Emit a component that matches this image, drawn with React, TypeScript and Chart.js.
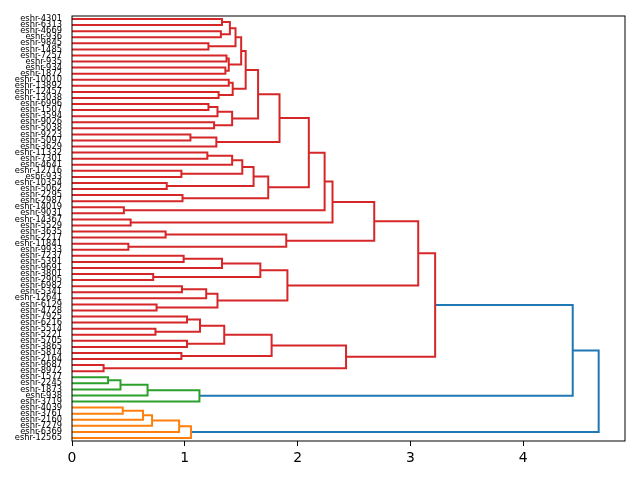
import { useEffect, useRef } from "react";
import { Chart, registerables } from "chart.js";

Chart.register(...registerables);

// Leaf labels, listed from the top of the plot to the bottom.
const leafLabels = [
  "eshr-4301", "eshr-6313", "eshr-4669", "eshr-936", "eshr-9845", "eshr-1485", "eshr-7257",
  "eshr-935", "eshr-934", "eshr-1872", "eshr-10010", "eshr-13892", "eshr-12457", "eshr-13038",
  "eshr-6996", "eshr-1507", "eshr-3594", "eshr-9026", "eshr-5038", "eshr-9223", "eshr-5097",
  "eshr-3629", "eshr-11332", "eshr-7301", "eshr-4641", "eshr-12716", "eshr-933", "eshr-10354",
  "eshr-5062", "eshr-2295", "eshr-2987", "eshr-14019", "eshr-9031", "eshr-14367", "eshr-5529",
  "eshr-3635", "eshr-2217", "eshr-11841", "eshr-9933", "eshr-7237", "eshr-5391", "eshr-9691",
  "eshr-3801", "eshr-2905", "eshr-6982", "eshr-5341", "eshr-12641", "eshr-6129", "eshr-4728",
  "eshr-7925", "eshr-6216", "eshr-5514", "eshr-5221", "eshr-5705", "eshr-3865", "eshr-5814",
  "eshr-2164", "eshr-9687", "eshr-8972", "eshr-1577", "eshr-2245", "eshr-1873", "eshr-938",
  "eshr-3719", "eshr-4039", "eshr-3761", "eshr-2160", "eshr-7279", "eshr-6369", "eshr-12565",
];

// Linkage rows: [child A, child B, merge distance].
// Ids below leafLabels.length are leaves; id n + k refers to row k.
const merges: [number, number, number][] = [
  [0, 1, 1.33],     // 70
  [2, 3, 1.32],     // 71
  [70, 71, 1.40],   // 72
  [4, 5, 1.21],     // 73
  [72, 73, 1.45],   // 74
  [6, 7, 1.37],     // 75
  [8, 9, 1.36],     // 76
  [75, 76, 1.39],   // 77
  [74, 77, 1.50],   // 78
  [10, 11, 1.39],   // 79
  [12, 13, 1.30],   // 80
  [79, 80, 1.425],  // 81
  [78, 81, 1.54],   // 82
  [14, 15, 1.21],   // 83
  [83, 16, 1.29],   // 84
  [17, 18, 1.26],   // 85
  [84, 85, 1.42],   // 86
  [82, 86, 1.65],   // 87
  [19, 20, 1.05],   // 88
  [88, 21, 1.28],   // 89
  [87, 89, 1.84],   // 90
  [22, 23, 1.20],   // 91
  [91, 24, 1.42],   // 92
  [25, 26, 0.97],   // 93
  [92, 93, 1.51],   // 94
  [27, 28, 0.84],   // 95
  [94, 95, 1.61],   // 96
  [29, 30, 0.98],   // 97
  [96, 97, 1.74],   // 98
  [90, 98, 2.10],   // 99
  [31, 32, 0.46],   // 100
  [99, 100, 2.24],  // 101
  [33, 34, 0.52],   // 102
  [101, 102, 2.31], // 103
  [35, 36, 0.83],   // 104
  [37, 38, 0.50],   // 105
  [104, 105, 1.90], // 106
  [103, 106, 2.68], // 107
  [39, 40, 0.99],   // 108
  [108, 41, 1.33],  // 109
  [42, 43, 0.72],   // 110
  [109, 110, 1.67], // 111
  [44, 45, 0.975],  // 112
  [112, 46, 1.19],  // 113
  [47, 48, 0.75],   // 114
  [113, 114, 1.29], // 115
  [111, 115, 1.91], // 116
  [107, 116, 3.07], // 117
  [49, 50, 1.02],   // 118
  [51, 52, 0.74],   // 119
  [118, 119, 1.135],// 120
  [53, 54, 1.02],   // 121
  [120, 121, 1.35], // 122
  [55, 56, 0.97],   // 123
  [122, 123, 1.77], // 124
  [57, 58, 0.28],   // 125
  [124, 125, 2.43], // 126
  [117, 126, 3.22], // 127
  [59, 60, 0.32],   // 128
  [128, 61, 0.43],  // 129
  [129, 62, 0.67],  // 130
  [130, 63, 1.13],  // 131
  [127, 131, 4.44], // 132
  [64, 65, 0.45],   // 133
  [133, 66, 0.63],  // 134
  [134, 67, 0.71],  // 135
  [135, 68, 0.95],  // 136
  [136, 69, 1.055], // 137
  [132, 137, 4.67], // 138
];

const xTicks = [0, 1, 2, 3, 4];
const clusterColors = ["#ff7f0e", "#2ca02c", "#d62728"];
const aboveColor = "#1f77b4";

type Pt = { x: number; y: number };

function buildDendrogram() {
  const n = leafLabels.length;
  const pos: Pt[] = leafLabels.map((_, i) => ({ x: 0, y: 10 * (n - 1 - i) + 5 }));
  merges.forEach(([a, b, h]) => pos.push({ x: h, y: (pos[a].y + pos[b].y) / 2 }));

  const maxH = Math.max(...merges.map((m) => m[2]));
  const threshold = 0.7 * maxH;
  const colors: string[] = new Array(merges.length);
  let next = 0;
  const paint = (id: number, color: string | null) => {
    if (id < n) return;
    const k = id - n;
    const [a, b, h] = merges[k];
    let c = color;
    if (c === null && h < threshold) c = clusterColors[next++ % clusterColors.length];
    colors[k] = c ?? aboveColor;
    const [first, second] = pos[a].y <= pos[b].y ? [a, b] : [b, a];
    paint(first, c);
    paint(second, c);
  };
  paint(n + merges.length - 1, null);

  const links = merges.map(([a, b, h], k) => ({
    data: [
      { x: pos[a].x, y: pos[a].y },
      { x: h, y: pos[a].y },
      { x: h, y: pos[b].y },
      { x: pos[b].x, y: pos[b].y },
    ],
    color: colors[k],
  }));
  const leafPos = leafLabels.map((_, i) => pos[i].y);
  return { links, leafPos, maxH, n };
}

const framePlugin = {
  id: "frame",
  afterDraw(chart: Chart) {
    const { ctx, chartArea: a } = chart;
    ctx.save();
    ctx.strokeStyle = "#000";
    ctx.lineWidth = 1;
    ctx.strokeRect(a.left, a.top, a.right - a.left, a.bottom - a.top);
    ctx.restore();
  },
};

export default function App() {
  const canvasRef = useRef<HTMLCanvasElement>(null);

  useEffect(() => {
    if (!canvasRef.current) return;
    const { links, leafPos, maxH, n } = buildDendrogram();
    const labelAt = new Map<number, string>();
    leafPos.forEach((p, i) => labelAt.set(p, leafLabels[i]));

    const chart = new Chart(canvasRef.current, {
      type: "scatter",
      data: {
        datasets: links.map((l) => ({
          data: l.data,
          showLine: true,
          borderColor: l.color,
          backgroundColor: l.color,
          borderWidth: 2,
          pointRadius: 0,
          pointHoverRadius: 0,
          tension: 0,
          fill: false,
        })),
      },
      options: {
        responsive: false,
        animation: false,
        layout: { padding: { top: 16, right: 15, bottom: 0, left: 0 } },
        plugins: { legend: { display: false }, tooltip: { enabled: false } },
        scales: {
          x: {
            type: "linear",
            min: 0,
            max: maxH * 1.05,
            afterBuildTicks: (s: any) => {
              s.ticks = xTicks.map((v) => ({ value: v }));
            },
            afterFit: (s: any) => {
              s.height = 39;
            },
            grid: { drawOnChartArea: false, drawTicks: true, tickLength: 5, color: "#000", lineWidth: 1 },
            border: { display: false },
            ticks: {
              color: "#000",
              font: { family: "DejaVu Sans", size: 13.9 },
              padding: 4,
              callback: (v: any) => String(v),
            },
          },
          y: {
            type: "linear",
            min: 0,
            max: 10 * n,
            afterBuildTicks: (s: any) => {
              s.ticks = leafPos.map((v) => ({ value: v }));
            },
            afterFit: (s: any) => {
              s.width = 72;
            },
            grid: { display: false, drawTicks: false },
            border: { display: false },
            ticks: {
              autoSkip: false,
              color: "#000",
              font: { family: "DejaVu Sans", size: 8.33 },
              padding: 10,
              callback: (v: any) => labelAt.get(v) ?? "",
            },
          },
        },
      },
      plugins: [framePlugin],
    });
    return () => chart.destroy();
  }, []);

  return (
    <div style={{ position: "absolute", left: 0, top: 0, width: 640, height: 480, background: "#fff" }}>
      <canvas ref={canvasRef} width={640} height={480} />
    </div>
  );
}
